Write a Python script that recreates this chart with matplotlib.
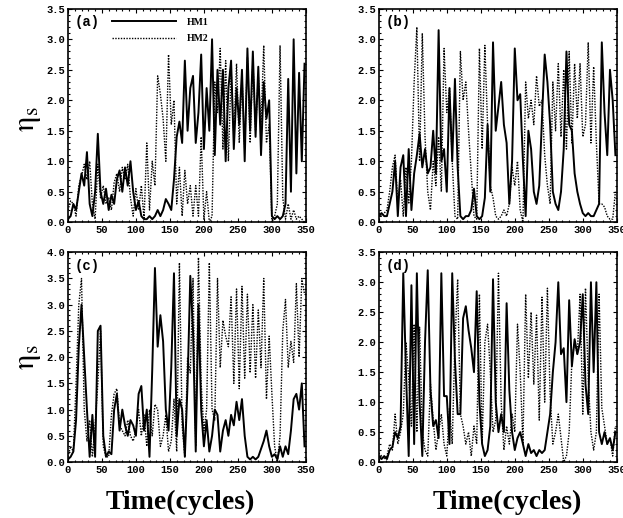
import numpy as np
import matplotlib
matplotlib.use("Agg")
import matplotlib.pyplot as plt
from matplotlib.ticker import MultipleLocator

plt.rcParams["mathtext.fontset"] = "stix"

# time axis (cycles), sampled every 4 cycles
cycles = np.arange(0, 350, 4)

# panel (a)
a_hm1 = [0.05, 0.1, 0.3, 0.2, 0.5, 0.8, 0.6, 1.15,
         0.3, 0.1, 0.5, 1.45, 0.5, 0.3, 0.55, 0.2,
         0.45, 0.3, 0.7, 0.85, 0.5, 0.9, 0.6, 1.0,
         0.5, 0.2, 0.35, 0.1, 0.05, 0.05, 0.1, 0.05,
         0.1, 0.2, 0.1, 0.2, 0.38, 0.3, 0.2, 0.7,
         1.4, 1.65, 1.3, 2.65, 1.5, 2.2, 2.4, 1.3,
         1.8, 2.75, 1.2, 2.2, 1.5, 3.0, 1.1, 2.5,
         1.6, 2.5, 1.0, 2.2, 2.65, 1.2, 2.2, 1.6,
         2.5, 1.0, 2.85, 1.5, 2.8, 1.4, 2.55, 1.1,
         2.3, 1.7, 2.0, 0.1, 0.05, 0.1, 0.05, 0.1,
         0.3, 2.35, 0.5, 3.0, 0.8, 2.45, 1.0, 2.6]
a_hm2 = [0.2, 0.35, 0.3, 0.1, 0.6, 0.75, 0.95, 0.7,
         1.0, 0.3, 0.05, 0.95, 0.4, 0.6, 0.3, 0.4,
         0.2, 0.65, 0.8, 0.5, 0.9, 0.7, 0.95, 0.4,
         0.1, 0.55, 0.2, 0.6, 0.05, 1.3, 0.2, 1.0,
         0.6, 2.4, 2.1, 1.7, 1.0, 2.75, 1.6, 2.0,
         0.3, 0.9, 0.1, 0.85, 0.3, 0.6, 0.1, 0.6,
         0.1, 1.4, 0.05, 0.5, 0.0, 0.1, 2.3, 1.8,
         2.85, 1.2, 2.65, 1.0, 2.5, 1.4, 2.6, 1.3,
         2.4, 1.2, 2.7, 1.3, 2.65, 1.5, 2.4, 1.6,
         2.9, 1.3, 1.6, 0.0, 0.1, 0.3, 2.9, 0.4,
         0.05, 0.3, 0.05, 0.2, 0.05, 0.1, 0.05, 0.0]

# panel (b)
b_hm1 = [0.1, 0.15, 0.1, 0.1, 0.3, 0.5, 1.0, 0.1,
         0.9, 1.1, 0.1, 1.2, 0.2, 0.8, 1.1, 1.45,
         0.9, 1.2, 0.8, 0.9, 1.5, 0.8, 3.15, 1.0,
         1.2, 0.5, 2.2, 1.0, 2.35, 0.9, 0.1, 0.05,
         0.1, 0.1, 0.2, 0.55, 0.1, 0.05, 0.1, 0.4,
         1.6, 0.5, 2.95, 1.5, 1.9, 2.3, 1.6, 1.3,
         0.3, 1.0, 2.85, 2.0, 2.1, 1.0, 0.1, 1.5,
         1.2, 0.5, 0.3, 0.6, 1.7, 2.75, 2.3, 1.6,
         0.5, 0.3, 0.2, 0.5, 1.2, 2.8, 1.6, 1.5,
         0.8, 0.5, 0.3, 0.15, 0.1, 0.15, 0.1, 0.1,
         0.2, 0.3, 2.95, 1.8, 1.1, 2.5, 2.0, 1.1]
b_hm2 = [0.15, 0.1, 0.15, 0.2, 0.5, 0.9, 1.1, 0.3,
         0.7, 0.1, 0.9, 0.3, 1.0, 2.3, 3.2, 1.0,
         3.1, 1.4, 0.5, 0.2, 1.0, 0.6, 1.4, 0.5,
         2.85, 1.8, 2.2, 1.0, 0.1, 0.05, 2.8, 2.0,
         2.3, 1.5, 0.8, 0.1, 0.05, 2.85, 1.2, 2.9,
         1.6, 0.6, 0.4, 0.1, 0.05, 0.1, 0.2, 0.1,
         0.3, 0.9, 0.6, 1.0, 0.2, 0.0, 2.3, 1.7,
         2.0, 1.6, 2.4, 1.9, 2.0, 1.1, 0.6, 0.3,
         2.3, 1.5, 2.6, 1.4, 2.5, 1.2, 2.8, 1.3,
         2.6, 1.7, 2.6, 1.4, 1.6, 2.95, 1.3, 2.55,
         1.3, 0.3, 0.3, 0.25, 0.1, 0.05, 0.05, 0.5]

# panel (c)
c_hm1 = [0.05, 0.1, 0.2, 0.8, 2.2, 3.0, 2.0, 1.0,
         0.1, 0.9, 0.1, 2.5, 2.6, 0.5, 0.1, 0.2,
         0.15, 1.0, 1.3, 0.6, 1.0, 0.7, 0.5, 0.8,
         0.7, 0.5, 1.3, 1.45, 0.6, 1.0, 0.1, 1.75,
         3.7, 2.2, 2.8, 2.3, 1.0, 0.6, 1.8, 3.6,
         0.5, 1.2, 1.0, 0.1, 1.5, 3.55, 2.5, 0.2,
         3.0, 1.0, 0.3, 0.8, 0.2, 0.5, 1.0, 0.9,
         0.2, 0.6, 0.8, 0.5, 0.9, 0.7, 1.15, 0.8,
         1.2, 0.5, 0.1, 0.05, 0.1, 0.05, 0.1, 0.25,
         0.4, 0.6, 0.3, 0.1, 0.15, 0.05, 0.3, 0.1,
         0.3, 0.15, 0.6, 1.2, 1.3, 1.0, 1.5, 0.3]
c_hm2 = [0.1, 0.3, 0.2, 1.5, 3.0, 3.5, 1.0, 0.4,
         0.8, 0.1, 0.7, 1.5, 2.5, 0.3, 0.1, 0.1,
         0.9, 1.3, 1.4, 0.7, 0.6, 0.5, 0.8, 0.5,
         0.4, 0.6, 1.0, 0.5, 0.9, 0.3, 1.0, 0.5,
         1.1, 1.0, 0.3, 0.5, 0.9, 0.2, 0.4, 1.2,
         0.2, 3.8, 0.7, 0.1, 2.0, 1.7, 3.5, 0.3,
         3.9, 1.5, 0.6, 1.0, 3.8, 1.0, 0.8, 3.5,
         1.8, 2.7, 2.4, 2.2, 3.15, 1.5, 3.3, 1.4,
         3.35, 1.6, 3.2, 1.7, 3.0, 1.6, 2.9, 1.8,
         3.5, 1.2, 2.4, 1.3, 0.3, 0.0, 0.5, 2.5,
         3.1, 1.8, 2.3, 1.9, 3.4, 2.0, 3.5, 3.2]

# panel (d)
d_hm1 = [0.1, 0.05, 0.1, 0.05, 0.2, 0.25, 0.5, 0.4,
         0.6, 3.15, 1.5, 0.1, 2.95, 0.3, 3.15, 1.0,
         0.1, 2.0, 3.2, 1.2, 0.6, 0.7, 0.4, 3.15,
         1.1, 1.1, 0.3, 3.15, 1.7, 0.8, 0.8, 2.4,
         2.6, 2.2, 1.9, 1.5, 2.85, 1.0, 0.3, 0.1,
         0.2, 0.6, 3.05, 1.0, 0.5, 0.8, 0.5, 2.65,
         1.2, 0.5, 0.2, 0.4, 0.5, 0.3, 0.1, 0.3,
         0.15, 0.2, 0.1, 0.2, 0.15, 0.2, 0.5, 0.8,
         1.5, 2.0, 3.0, 1.8, 1.9, 1.0, 2.7, 1.6,
         2.05, 1.8, 2.0, 2.8, 1.3, 0.8, 3.0, 1.5,
         3.0, 0.5, 0.3, 0.5, 0.3, 0.4, 0.2, 0.5]
d_hm2 = [0.15, 0.1, 0.05, 0.1, 0.3, 0.2, 0.8, 0.3,
         0.5, 0.8, 2.0, 1.4, 0.6, 2.3, 0.5, 2.25,
         0.5, 0.2, 0.1, 1.3, 0.7, 0.2, 0.5, 0.8,
         0.3, 0.1, 0.9, 0.3, 2.0, 3.05, 0.8, 0.6,
         0.3, 0.5, 0.1, 0.6, 0.3, 2.8, 0.3, 2.0,
         2.3, 1.5, 0.5, 0.7, 3.15, 1.0, 0.2, 0.6,
         0.3, 0.8, 0.5, 2.3, 1.5, 0.3, 2.8, 1.4,
         2.5, 1.3, 2.45, 0.7, 2.75, 1.0, 2.9, 1.1,
         0.3, 0.5, 0.8, 0.4, 0.0, 0.1, 0.5, 1.7,
         2.0, 1.8, 2.8, 0.8, 2.9, 1.4, 0.5, 0.2,
         0.5, 2.8, 0.9, 0.6, 0.3, 0.4, 0.1, 0.6]

panels = [("(a)", a_hm1, a_hm2, 3.5),
          ("(b)", b_hm1, b_hm2, 3.5),
          ("(c)", c_hm1, c_hm2, 4.0),
          ("(d)", d_hm1, d_hm2, 3.5)]

# axes rectangles in figure fractions
rects = [[0.109, 0.571, 0.382, 0.412],
         [0.608, 0.571, 0.382, 0.412],
         [0.109, 0.108, 0.382, 0.405],
         [0.608, 0.108, 0.382, 0.405]]

tick_font = {"family": "Liberation Mono", "weight": "bold", "size": 7.5}

fig = plt.figure(figsize=(6.23, 5.18), dpi=100)

for (tag, hm1, hm2, ymax), rect in zip(panels, rects):
    ax = fig.add_axes(rect)
    ax.plot(cycles, hm1, color="black", lw=1.4, label="HM1")
    ax.plot(cycles, hm2, color="black", lw=1.0, ls=(0, (1, 1)), label="HM2")
    ax.set_xlim(0, 350)
    ax.set_ylim(0, ymax)
    ax.xaxis.set_major_locator(MultipleLocator(50))
    ax.xaxis.set_minor_locator(MultipleLocator(10))
    ax.yaxis.set_major_locator(MultipleLocator(0.5))
    ax.yaxis.set_minor_locator(MultipleLocator(0.1))
    ax.xaxis.set_major_formatter(plt.FuncFormatter(lambda v, p: f"{v:.0f}"))
    ax.yaxis.set_major_formatter(plt.FuncFormatter(lambda v, p: f"{v:.1f}"))
    ax.tick_params(which="both", direction="in", top=True, right=True, width=0.8)
    ax.tick_params(which="major", length=3, pad=2)
    ax.tick_params(which="minor", length=1.5)
    for lbl in ax.get_xticklabels() + ax.get_yticklabels():
        lbl.set_fontproperties(tick_font)
    for sp in ax.spines.values():
        sp.set_linewidth(1.2)
    ax.text(0.03, 0.97, tag, transform=ax.transAxes, ha="left", va="top",
            fontfamily="Liberation Mono", fontweight="bold", fontsize=10)
    if tag == "(a)":
        ax.legend(loc="upper left", bbox_to_anchor=(0.15, 1.0), frameon=False,
                  handlelength=6.5, handletextpad=1.2, labelspacing=0.8,
                  prop={"family": "Liberation Serif", "weight": "bold", "size": 7})

# shared labels
for y in (0.77, 0.31):
    fig.text(0.045, y, r"$\mathrm{\eta_s}$", rotation=90, ha="center", va="center",
             fontsize=22)
for x in (0.289, 0.815):
    fig.text(x, 0.03, "Time(cycles)", ha="center", va="center",
             fontsize=20, fontweight="bold", fontfamily="Liberation Serif")

plt.savefig("out.png", dpi=100)
